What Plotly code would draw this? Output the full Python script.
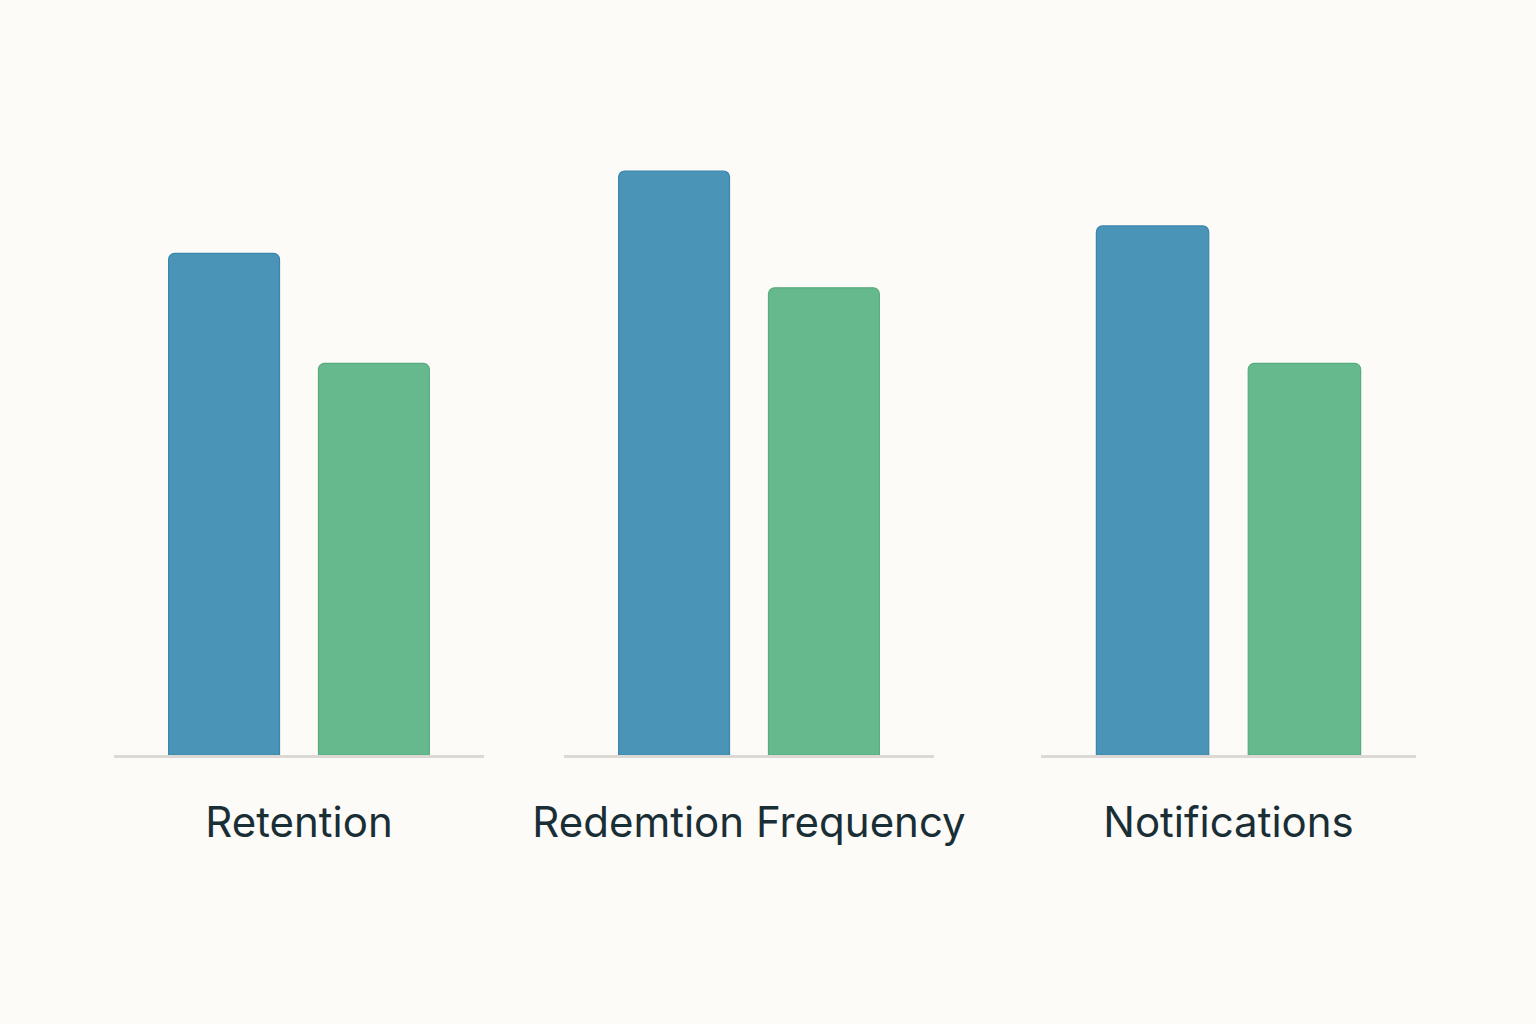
import plotly.graph_objects as go

categories = ["Retention", "Redemtion Frequency", "Notifications"]
series_a = [73, 85, 77]
series_b = [57, 68, 57]

BG = "#fcfbf8"
BLUE = "#4a94b8"
BLUE_EDGE = "#3a85ad"
GREEN = "#66b98d"
GREEN_EDGE = "#57ab7e"

W, H = 1536, 1024
BASE_Y = 755
domains_px = [(114, 484), (564, 934), (1041, 1416)]

fig = go.Figure()
ymax = series_a[1] / (BASE_Y - 171) * BASE_Y  # axis top so that baseline ~ y=755

for i, cat in enumerate(categories):
    xa = "x" if i == 0 else f"x{i+1}"
    ya = "y" if i == 0 else f"y{i+1}"
    fig.add_trace(go.Bar(x=[cat], y=[series_a[i]], xaxis=xa, yaxis=ya,
                         marker=dict(color=BLUE, line=dict(color=BLUE_EDGE, width=1.2)),
                         showlegend=False, hoverinfo="skip"))
    fig.add_trace(go.Bar(x=[cat], y=[series_b[i]], xaxis=xa, yaxis=ya,
                         marker=dict(color=GREEN, line=dict(color=GREEN_EDGE, width=1.2)),
                         showlegend=False, hoverinfo="skip"))
    d0, d1 = domains_px[i]
    xkey = "xaxis" if i == 0 else f"xaxis{i+1}"
    ykey = "yaxis" if i == 0 else f"yaxis{i+1}"
    fig.layout[xkey] = dict(domain=[d0 / W, d1 / W], anchor=ya, showline=True,
                            linecolor="#dcd8d4", linewidth=3, showgrid=False,
                            zeroline=False, ticks="", ticklabelstandoff=29,
                            automargin=False,
                            tickfont=dict(family="Inter", size=42, color="#1a2e35"),
                            fixedrange=True)
    fig.layout[ykey] = dict(domain=[0, 1], anchor=xa, range=[0, ymax], visible=False,
                            automargin=False,
                            showgrid=False, zeroline=False, fixedrange=True)

fig.update_layout(
    width=W, height=H,
    margin=dict(l=0, r=0, t=0, b=H - BASE_Y, pad=0),
    paper_bgcolor=BG, plot_bgcolor=BG,
    barmode="group", bargap=0.19, bargroupgap=0.26,
    barcornerradius=6,
    showlegend=False,
)

fig.write_html(
    "out.html",
    config={"displayModeBar": False, "staticPlot": True},
    post_script="document.body.style.margin='0';document.body.style.background='%s';" % BG,
)
